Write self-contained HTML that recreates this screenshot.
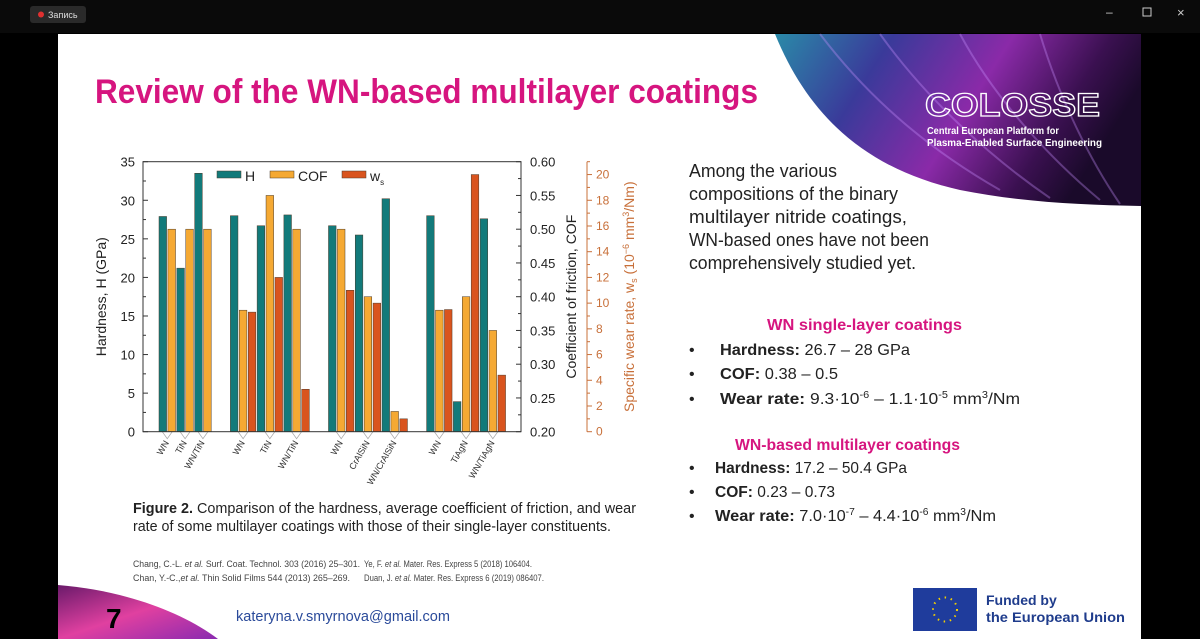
<!DOCTYPE html>
<html><head><meta charset="utf-8"><style>
html,body{margin:0;padding:0;background:#000;width:1200px;height:639px;overflow:hidden}
svg{display:block}
text{font-family:"Liberation Sans",sans-serif}
</style></head><body>
<svg id="root" width="1200" height="639" viewBox="0 0 1200 639" xmlns="http://www.w3.org/2000/svg">
<defs>
<linearGradient id="sw" x1="0" y1="0" x2="1" y2="0.3">
<stop offset="0" stop-color="#2a8aa8"/><stop offset="0.3" stop-color="#3a3a9a"/><stop offset="0.6" stop-color="#8a2aa8"/><stop offset="0.85" stop-color="#3a1050"/><stop offset="1" stop-color="#1a0a2a"/></linearGradient>
<linearGradient id="bl" x1="0" y1="0" x2="1" y2="1">
<stop offset="0" stop-color="#6a1a6a"/><stop offset="0.5" stop-color="#e040a0"/><stop offset="1" stop-color="#8a2ab0"/></linearGradient>
</defs>
<rect x="0" y="0" width="1200" height="639" fill="#000"/>
<rect x="0" y="0" width="1200" height="33" fill="#0a0a0a"/>
<g>
<rect x="30" y="6" width="56" height="17" rx="3" fill="#2a2a2a"/>
<circle cx="41" cy="14.5" r="3" fill="#e03030"/>
<text x="48" y="18" font-size="9" fill="#ddd">Запись</text>
</g>
<text x="1106" y="16" font-size="12" fill="#ccc">–</text>
<rect x="1143" y="8" width="8" height="8" fill="none" stroke="#ccc"/>
<text x="1177" y="17" font-size="13" fill="#ccc">×</text>

<rect x="58" y="34" width="1083" height="605" fill="#fff"/>
<path d="M775 34 C810 120 870 170 960 190 C1020 202 1080 205 1141 206 L1141 34 Z" fill="url(#sw)"/>
<g stroke="#c890ff" stroke-opacity="0.35" fill="none" stroke-width="2">
<path d="M820 34 C870 100 930 150 1000 190"/><path d="M880 34 C920 90 980 150 1050 198"/><path d="M960 34 C990 90 1040 150 1100 200"/><path d="M1040 34 C1060 100 1090 160 1120 204"/></g>
<text x="925" y="116" font-size="32" font-weight="bold" fill="none" stroke="#fff" stroke-width="1.3" textLength="175" lengthAdjust="spacingAndGlyphs">COLOSSE</text>
<text x="927" y="134" font-size="10" font-weight="bold" fill="#fff" textLength="132" lengthAdjust="spacingAndGlyphs">Central European Platform for</text>
<text x="927" y="146" font-size="10" font-weight="bold" fill="#fff" textLength="175" lengthAdjust="spacingAndGlyphs">Plasma-Enabled Surface Engineering</text>
<path d="M58 585 C120 590 180 610 218 639 L58 639 Z" fill="url(#bl)"/>

<text x="95" y="103" font-size="34" font-weight="bold" fill="#d6157f" textLength="663" lengthAdjust="spacingAndGlyphs">Review of the WN-based multilayer coatings</text>

<g id="chart"></g>

<g font-size="15" fill="#222">
<text x="133" y="513" textLength="503" lengthAdjust="spacingAndGlyphs"><tspan font-weight="bold">Figure 2.</tspan> Comparison of the hardness, average coefficient of friction, and wear</text>
<text x="133" y="531" textLength="478" lengthAdjust="spacingAndGlyphs">rate of some multilayer coatings with those of their single-layer constituents.</text>
</g>
<g font-size="9" fill="#444">
<text x="133" y="567" textLength="227" lengthAdjust="spacingAndGlyphs">Chang, C.-L. <tspan font-style="italic">et al.</tspan> Surf. Coat. Technol. 303 (2016) 25–301.</text>
<text x="133" y="581" textLength="217" lengthAdjust="spacingAndGlyphs">Chan, Y.-C.,<tspan font-style="italic">et al.</tspan> Thin Solid Films 544 (2013) 265–269.</text>
<text x="364" y="567" textLength="168" lengthAdjust="spacingAndGlyphs">Ye, F. <tspan font-style="italic">et al.</tspan> Mater. Res. Express 5 (2018) 106404.</text>
<text x="364" y="581" textLength="180" lengthAdjust="spacingAndGlyphs">Duan, J. <tspan font-style="italic">et al.</tspan> Mater. Res. Express 6 (2019) 086407.</text>
</g>
<text x="106" y="628" font-size="28" font-weight="bold" fill="#000">7</text>
<text x="236" y="621" font-size="15" fill="#2a4a9a" textLength="214" lengthAdjust="spacingAndGlyphs">kateryna.v.smyrnova@gmail.com</text>

<g font-size="18" fill="#222">
<text x="689" y="177" textLength="148" lengthAdjust="spacingAndGlyphs">Among the various</text>
<text x="689" y="200" textLength="209" lengthAdjust="spacingAndGlyphs">compositions of the binary</text>
<text x="689" y="223" textLength="218" lengthAdjust="spacingAndGlyphs">multilayer nitride coatings,</text>
<text x="689" y="246" textLength="240" lengthAdjust="spacingAndGlyphs">WN-based ones have not been</text>
<text x="689" y="269" textLength="227" lengthAdjust="spacingAndGlyphs">comprehensively studied yet.</text>
</g>
<g fill="#222" font-size="16">
<text x="767" y="330" font-weight="bold" fill="#d6157f" textLength="195" lengthAdjust="spacingAndGlyphs">WN single-layer coatings</text>
<text x="689" y="355">•</text><text x="720" y="355" textLength="190" lengthAdjust="spacingAndGlyphs"><tspan font-weight="bold">Hardness:</tspan> 26.7 – 28 GPa</text>
<text x="689" y="379">•</text><text x="720" y="379" textLength="118" lengthAdjust="spacingAndGlyphs"><tspan font-weight="bold">COF:</tspan> 0.38 – 0.5</text>
<text x="689" y="404">•</text><text x="720" y="404" textLength="300" lengthAdjust="spacingAndGlyphs"><tspan font-weight="bold">Wear rate:</tspan> 9.3·10<tspan dy="-6" font-size="10">-6</tspan><tspan dy="6"> – 1.1·10</tspan><tspan dy="-6" font-size="10">-5</tspan><tspan dy="6"> mm</tspan><tspan dy="-6" font-size="10">3</tspan><tspan dy="6">/Nm</tspan></text>
</g>
<g fill="#222" font-size="16">
<text x="735" y="450" font-weight="bold" fill="#d6157f" textLength="225" lengthAdjust="spacingAndGlyphs">WN-based multilayer coatings</text>
<text x="689" y="473">•</text><text x="715" y="473" textLength="192" lengthAdjust="spacingAndGlyphs"><tspan font-weight="bold">Hardness:</tspan> 17.2 – 50.4 GPa</text>
<text x="689" y="497">•</text><text x="715" y="497" textLength="120" lengthAdjust="spacingAndGlyphs"><tspan font-weight="bold">COF:</tspan> 0.23 – 0.73</text>
<text x="689" y="521">•</text><text x="715" y="521" textLength="281" lengthAdjust="spacingAndGlyphs"><tspan font-weight="bold">Wear rate:</tspan> 7.0·10<tspan dy="-6" font-size="10">-7</tspan><tspan dy="6"> – 4.4·10</tspan><tspan dy="-6" font-size="10">-6</tspan><tspan dy="6"> mm</tspan><tspan dy="-6" font-size="10">3</tspan><tspan dy="6">/Nm</tspan></text>
</g>
<g>
<rect x="913" y="588" width="64" height="43" fill="#1f3c9c"/>
<circle cx="945" cy="609.5" r="12" fill="none" stroke="#f5d000" stroke-width="2" stroke-dasharray="1.5 4.7"/>
<text x="986" y="605" font-size="14" font-weight="bold" fill="#1f3c8c">Funded by</text>
<text x="986" y="622" font-size="14" font-weight="bold" fill="#1f3c8c" textLength="139" lengthAdjust="spacingAndGlyphs">the European Union</text>
</g>
</svg>
<script>
const groups = [["WN","TiN","WN/TiN"],["WN","TiN","WN/TiN"],["WN","CrAlSiN","WN/CrAlSiN"],["WN","TiAgN","WN/TiAgN"]];
const hardness = [[27.9,21.2,33.5],[28.0,26.7,28.1],[26.7,25.5,30.2],[28.0,3.9,27.6]];
const cof = [[0.50,0.50,0.50],[0.38,0.55,0.50],[0.50,0.40,0.23],[0.38,0.40,0.35]];
const wear = [[null,null,null],[9.3,12.0,3.3],[11.0,10.0,1.0],[9.5,20.0,4.4]];
const hTicks = [0,5,10,15,20,25,30,35];
const cofTicks = [0.20,0.25,0.30,0.35,0.40,0.45,0.50,0.55,0.60];
const wTicks = [0,2,4,6,8,10,12,14,16,18,20];

const NS="http://www.w3.org/2000/svg";
const chart=document.getElementById('chart');
const L=143,R=521,B=431.7,T=161.7;
const yH=v=>B-(v/35)*(B-T);
const yC=v=>B-((v-0.2)/0.4)*(B-T);
const yW=v=>B-(v/21)*(B-T);
function mk(tag,attrs,parent){const e=document.createElementNS(NS,tag);for(const k in attrs)e.setAttribute(k,attrs[k]);(parent||chart).appendChild(e);return e;}
const colors={H:"#127a7a",COF:"#f5a933",W:"#d9541e"};
const slot=8.92,bw=7.6;let s=0;const x0=159;
groups.forEach((g,gi)=>{
  const hasW=wear[gi].some(v=>v!==null);
  g.forEach((cat,ci)=>{
    const nb=hasW?3:2;
    const cx=x0+(s+nb/2)*slot-(slot-bw)/2;
    const vals=[["H",yH(hardness[gi][ci])],["COF",yC(cof[gi][ci])]];
    if(hasW)vals.push(["W",yW(wear[gi][ci])]);
    vals.forEach((p,k)=>{
      const x=x0+(s+k)*slot;
      const r=mk('rect',{x:x,y:p[1],width:bw,height:B-p[1],fill:colors[p[0]],stroke:"#4a3a2a","stroke-width":0.5});
      
      
    });
    mk('path',{d:`M${cx-5} ${B} L${cx} ${B+7} L${cx+5} ${B}`,fill:"none",stroke:"#aaa","stroke-width":0.8});
    const t=mk('text',{x:cx+2,y:B+11,"font-size":9,fill:"#333","text-anchor":"end",transform:`rotate(-60 ${cx+2} ${B+11})`});
    t.textContent=cat;
    
    
    s+=nb;
  });
  s+=2;
});
const fr=mk('rect',{x:L,y:T,width:R-L,height:B-T,fill:"none",stroke:"#333","stroke-width":1});


hTicks.forEach(v=>{mk('line',{x1:L,x2:L+5,y1:yH(v),y2:yH(v),stroke:"#333"});
  const t=mk('text',{x:L-8,y:yH(v)+5,"font-size":13,"text-anchor":"end",fill:"#222"});t.textContent=v;
  
  
  if(v<35)mk('line',{x1:L,x2:L+3,y1:yH(v+2.5),y2:yH(v+2.5),stroke:"#333"});});
cofTicks.forEach((v,i)=>{mk('line',{x1:R-5,x2:R,y1:yC(v),y2:yC(v),stroke:"#333"});
  const t=mk('text',{x:R+9,y:yC(v)+5,"font-size":13,fill:"#222"});t.textContent=v.toFixed(2);
  
  
  if(i<cofTicks.length-1)mk('line',{x1:R-3,x2:R,y1:yC(v+0.025),y2:yC(v+0.025),stroke:"#333"});});
const WA=587,wc="#c8703a";
mk('line',{x1:WA,x2:WA,y1:B,y2:T,stroke:wc});
wTicks.forEach(v=>{mk('line',{x1:WA,x2:WA+5,y1:yW(v),y2:yW(v),stroke:wc});
  const t=mk('text',{x:WA+9,y:yW(v)+4,"font-size":12,fill:wc});t.textContent=v;
  
  
  mk('line',{x1:WA,x2:WA+3,y1:yW(v+1),y2:yW(v+1),stroke:wc});});
let t=mk('text',{x:106,y:(T+B)/2,"font-size":14,fill:"#222","text-anchor":"middle",transform:`rotate(-90 106 ${(T+B)/2})`});t.textContent="Hardness, H (GPa)";


t=mk('text',{x:576,y:(T+B)/2,"font-size":14,fill:"#222","text-anchor":"middle",transform:`rotate(-90 576 ${(T+B)/2})`});t.textContent="Coefficient of friction, COF";


t=mk('text',{x:634,y:(T+B)/2,"font-size":14,fill:wc,"text-anchor":"middle",transform:`rotate(-90 634 ${(T+B)/2})`});
t.innerHTML='Specific wear rate, w<tspan font-size="9" dy="3">s</tspan><tspan dy="-3"> (10</tspan><tspan font-size="9" dy="-5">−6</tspan><tspan dy="5"> mm</tspan><tspan font-size="9" dy="-5">3</tspan><tspan dy="5">/Nm)</tspan>';


[["H",217,"H"],["COF",270,"COF"],["W",342,"w"]].forEach(l=>{
  const g=mk('g',{});
  
  
  mk('rect',{x:l[1],y:171,width:24,height:7,fill:colors[l[0]],stroke:"#4a3a2a","stroke-width":0.5},g);
  const tx=mk('text',{x:l[1]+28,y:181,"font-size":14,fill:"#222"},g);
  if(l[0]==="W")tx.innerHTML='w<tspan font-size="8" dy="4">s</tspan>';else tx.textContent=l[2];
});
</script>
</body></html>
